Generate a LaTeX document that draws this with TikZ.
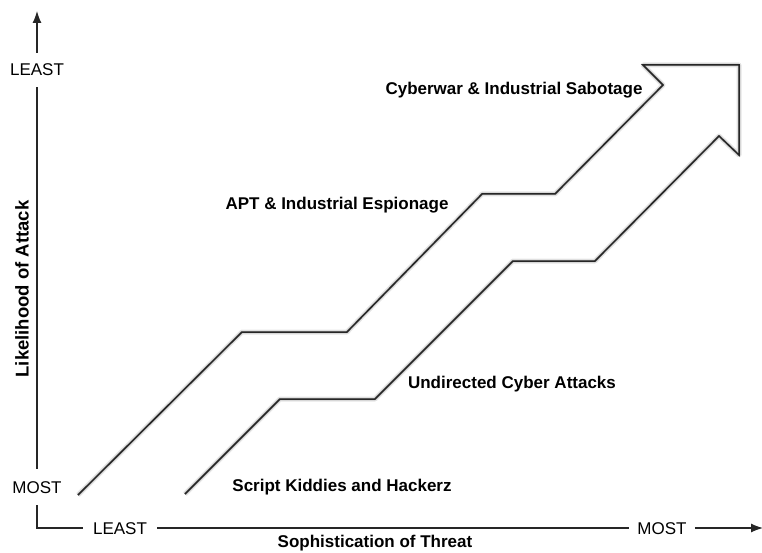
\documentclass[tikz,border=0pt]{standalone}
\usepackage{fontspec}
\setmainfont{Liberation Sans}
\usetikzlibrary{arrows.meta}
\begin{document}
\begin{tikzpicture}[x=1pt,y=-1pt,
  lbl/.style={font=\fontsize{17}{20}\selectfont\bfseries, inner sep=0pt},
  axlbl/.style={font=\fontsize{17}{20}\selectfont, text height=12pt, text depth=0pt},
  axline/.style={line width=1.2pt, draw=black!85},
  outline/.style={line width=1.5pt, draw=black!85, line join=miter},
  shade1/.style={line width=5pt, draw=black!10, line join=round},
  shade2/.style={line width=2.5pt, draw=black!25, line join=round},
  axtip/.style={-{Latex[length=12pt,width=9pt]}}
]
\useasboundingbox (0,0) rectangle (762,553);

% arrow outline coordinates
\coordinate (p1) at (78,495);
\coordinate (p2) at (242,332);
\coordinate (p3) at (347,332);
\coordinate (p4) at (482,194);
\coordinate (p5) at (555,194);
\coordinate (p6) at (663,85);
\coordinate (p7) at (643,65);
\coordinate (p8) at (739,65);
\coordinate (p9) at (739,155);
\coordinate (p10) at (719,136);
\coordinate (p11) at (595,261);
\coordinate (p12) at (513,261);
\coordinate (p13) at (375,399);
\coordinate (p14) at (280,399);
\coordinate (p15) at (185,494);

% soft shadow
\begin{scope}[shift={(3,4)}]
\draw[shade1] (p1)--(p2)--(p3)--(p4)--(p5)--(p6)--(p7)--(p8)--(p9)--(p10)--(p11)--(p12)--(p13)--(p14)--(p15);
\end{scope}
\begin{scope}[shift={(2,2.5)}]
\draw[shade2] (p1)--(p2)--(p3)--(p4)--(p5)--(p6)--(p7)--(p8)--(p9)--(p10)--(p11)--(p12)--(p13)--(p14)--(p15);
\end{scope}
\draw[outline] (p1)--(p2)--(p3)--(p4)--(p5)--(p6)--(p7)--(p8)--(p9)--(p10)--(p11)--(p12)--(p13)--(p14)--(p15);

% labels in the arrow
\node[lbl] (cyber) at (514,90) {Cyberwar \& Industrial Sabotage};
\node[lbl] (apt) at (337,205) {APT \& Industrial Espionage};
\node[lbl] (undir) at (512,384) {Undirected Cyber Attacks};
\node[lbl] (script) at (342,487) {Script Kiddies and Hackerz};

% axes
\node[axlbl, inner xsep=0pt, inner ysep=11pt] (yleast) at (37,70) {LEAST};
\node[axlbl, inner xsep=0pt, inner ysep=12pt] (ymost) at (37,487) {MOST};
\node[axlbl, inner xsep=10pt, inner ysep=0pt] (xleast) at (120,528) {LEAST};
\node[axlbl, inner xsep=8pt, inner ysep=0pt] (xmost) at (662,528) {MOST};
\coordinate (ytop) at (37,11);
\coordinate (xend) at (763,528);
\coordinate (origin) at (37,528);

\draw[axline, axtip] (yleast.north) -- (ytop);
\draw[axline] (yleast.south) -- (ymost.north);
\draw[axline] (ymost.south) -- (origin) -- (xleast.west);
\draw[axline] (xleast.east) -- (xmost.west);
\draw[axline, axtip] (xmost.east) -- (xend);

\node[lbl, font=\fontsize{18.5}{21}\selectfont\bfseries, rotate=90] (ytitle) at (22,289) {Likelihood of Attack};
\node[lbl] (xtitle) at (375,543) {Sophistication of Threat};
\end{tikzpicture}
\end{document}
